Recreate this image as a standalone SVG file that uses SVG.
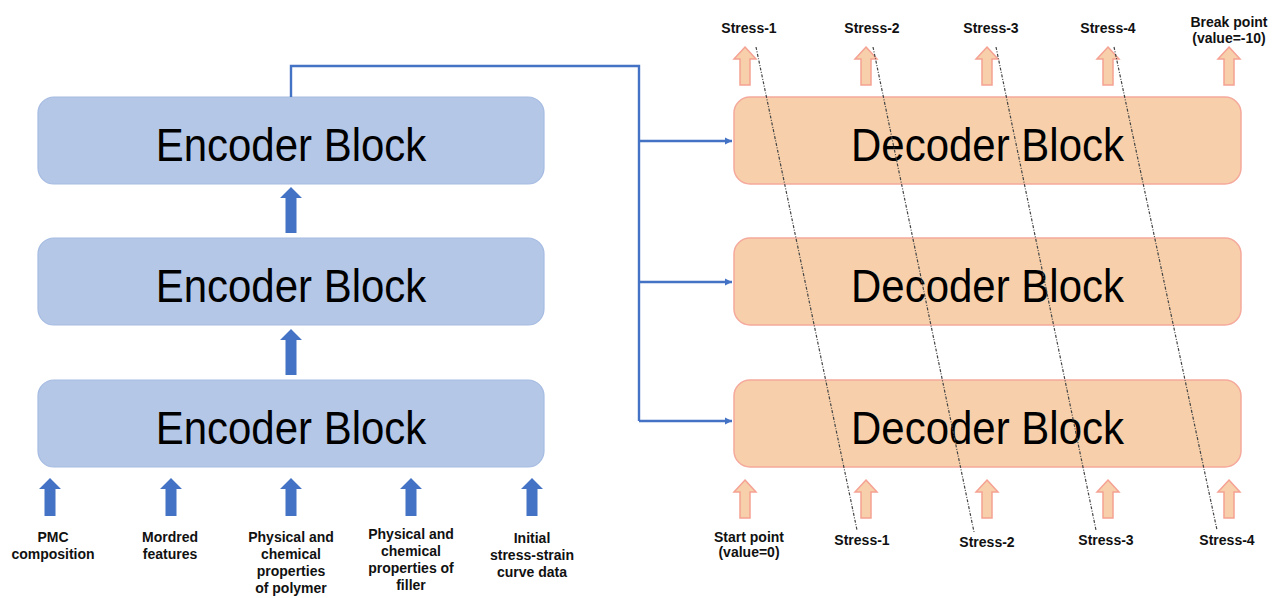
<svg xmlns="http://www.w3.org/2000/svg" xmlns:xlink="http://www.w3.org/1999/xlink" width="1278" height="598" viewBox="0 0 1278 598">
<style>
.enc{fill:#b4c7e7;stroke:#a5bbe2;stroke-width:1.2}
.dec{fill:#f7d0ab;stroke:#f5a99c;stroke-width:1.5}
.big{font-family:"Liberation Sans",Arial,sans-serif;font-size:42px;fill:#000;text-anchor:middle}
.lbl{font-family:"Liberation Sans",Arial,sans-serif;font-size:14px;font-weight:bold;fill:#111;text-anchor:middle}
.barrow{fill:#4472c4}
.oarrow{fill:#f7d0ab;stroke:#f5a193;stroke-width:1.5}
.conn{fill:none;stroke:#4472c4;stroke-width:2.4}
.dot{fill:none;stroke:#444;stroke-width:1.2;stroke-dasharray:3 1.5 1 1.5}
</style>
<defs>
<path id="ba" d="M0,0 L11,11 L5.5,11 L5.5,38 L-5.5,38 L-5.5,11 L-11,11 Z"/>
<path id="bam" d="M0,0 L11,11 L5.5,11 L5.5,46 L-5.5,46 L-5.5,11 L-11,11 Z"/>
<path id="oa" d="M0,0 L11,12 L5,12 L5,38 L-5,38 L-5,12 L-11,12 Z"/>
<marker id="ah" markerWidth="8" markerHeight="8" refX="7" refY="4" orient="auto" markerUnits="userSpaceOnUse">
<path d="M0,0.5 L7,4 L0,7.5 Z" fill="#4472c4"/>
</marker>
</defs>
<rect width="1278" height="598" fill="#fff"/>

<g id="encoder1"><rect class="enc" x="38" y="97" width="506" height="87" rx="16"/><text class="big" transform="translate(291,161) scale(1,1.12)">Encoder Block</text></g>
<g id="encoder2"><rect class="enc" x="38" y="238" width="506" height="87" rx="16"/><text class="big" transform="translate(291,302) scale(1,1.12)">Encoder Block</text></g>
<g id="encoder3"><rect class="enc" x="38" y="380" width="506" height="87" rx="16"/><text class="big" transform="translate(291,444) scale(1,1.12)">Encoder Block</text></g>

<g id="decoder1"><rect class="dec" x="734" y="97" width="507" height="87" rx="16"/><text class="big" transform="translate(987.5,161) scale(1,1.12)">Decoder Block</text></g>
<g id="decoder2"><rect class="dec" x="734" y="238" width="507" height="87" rx="16"/><text class="big" transform="translate(987.5,302) scale(1,1.12)">Decoder Block</text></g>
<g id="decoder3"><rect class="dec" x="734" y="380" width="507" height="87" rx="16"/><text class="big" transform="translate(987.5,444) scale(1,1.12)">Decoder Block</text></g>

<g id="connectors">
<path class="conn" d="M291,97 V66 H639 V421"/>
<path class="conn" d="M639,141 H732" marker-end="url(#ah)"/>
<path class="conn" d="M639,282 H732" marker-end="url(#ah)"/>
<path class="conn" d="M639,421 H732" marker-end="url(#ah)"/>
<use href="#bam" class="barrow" x="291" y="187"/>
<use href="#bam" class="barrow" x="291" y="329"/>
<use href="#ba" class="barrow" x="50" y="478"/>
<use href="#ba" class="barrow" x="171" y="478"/>
<use href="#ba" class="barrow" x="291" y="478"/>
<use href="#ba" class="barrow" x="411" y="478"/>
<use href="#ba" class="barrow" x="532" y="478"/>
<use href="#oa" class="oarrow" x="745" y="47"/>
<use href="#oa" class="oarrow" x="866" y="47"/>
<use href="#oa" class="oarrow" x="987" y="47"/>
<use href="#oa" class="oarrow" x="1108" y="47"/>
<use href="#oa" class="oarrow" x="1229" y="47"/>
<use href="#oa" class="oarrow" x="745" y="480"/>
<use href="#oa" class="oarrow" x="866" y="480"/>
<use href="#oa" class="oarrow" x="987" y="480"/>
<use href="#oa" class="oarrow" x="1108" y="480"/>
<use href="#oa" class="oarrow" x="1229" y="480"/>
<line class="dot" x1="756" y1="47" x2="857" y2="530"/>
<line class="dot" x1="873" y1="47" x2="974" y2="532"/>
<line class="dot" x1="996" y1="47" x2="1096" y2="530"/>
<line class="dot" x1="1114" y1="47" x2="1217" y2="530"/>
</g>

<g id="input-labels">
<text class="lbl" x="53" y="542">PMC</text>
<text class="lbl" x="53" y="559">composition</text>
<text class="lbl" x="170" y="542">Mordred</text>
<text class="lbl" x="170" y="559">features</text>
<text class="lbl" x="291" y="542">Physical and</text>
<text class="lbl" x="291" y="559">chemical</text>
<text class="lbl" x="291" y="576">properties</text>
<text class="lbl" x="291" y="593">of polymer</text>
<text class="lbl" x="411" y="539">Physical and</text>
<text class="lbl" x="411" y="556">chemical</text>
<text class="lbl" x="411" y="573">properties of</text>
<text class="lbl" x="411" y="590">filler</text>
<text class="lbl" x="532" y="543">Initial</text>
<text class="lbl" x="532" y="560">stress-strain</text>
<text class="lbl" x="532" y="577">curve data</text>
</g>

<g id="output-labels">
<text class="lbl" x="749" y="33">Stress-1</text>
<text class="lbl" x="872" y="33">Stress-2</text>
<text class="lbl" x="991" y="33">Stress-3</text>
<text class="lbl" x="1108" y="33">Stress-4</text>
<text class="lbl" x="1229" y="27">Break point</text>
<text class="lbl" x="1229" y="43">(value=-10)</text>
</g>

<g id="decoder-input-labels">
<text class="lbl" x="749" y="542">Start point</text>
<text class="lbl" x="749" y="557">(value=0)</text>
<text class="lbl" x="862" y="545">Stress-1</text>
<text class="lbl" x="987" y="547">Stress-2</text>
<text class="lbl" x="1106" y="545">Stress-3</text>
<text class="lbl" x="1227" y="545">Stress-4</text>
</g>
</svg>
